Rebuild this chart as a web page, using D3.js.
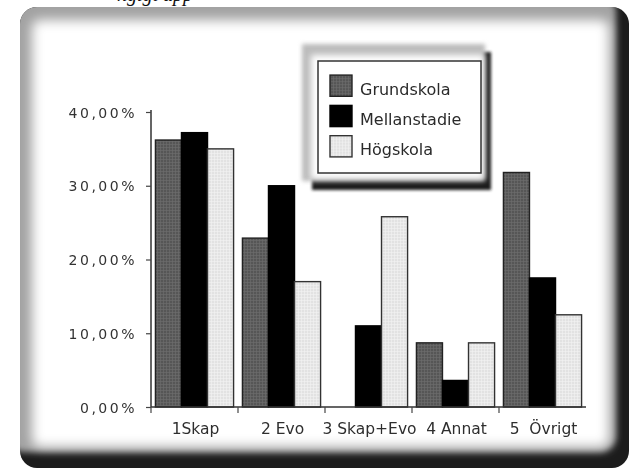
<!DOCTYPE html>
<html>
<head>
<meta charset="utf-8">
<script src="https://cdn.jsdelivr.net/npm/d3@7/dist/d3.min.js"></script>
<style>
  html, body { margin: 0; padding: 0; background: #fff; }
  svg { display: block; }
</style>
</head>
<body>
<svg id="chart" width="633" height="469"></svg>
<script>
// Answer categories and share per school level
const categories = ["1Skap", "2 Evo", "3 Skap+Evo", "4 Annat", "5  Övrigt"];
const seriesNames = ["Grundskola", "Mellanstadie", "Högskola"];
const grundskola = [0.362, 0.229, 0.0, 0.087, 0.318];
const mellanstadie = [0.372, 0.300, 0.110, 0.036, 0.175];
const hogskola = [0.350, 0.170, 0.258, 0.087, 0.125];
const yTicks = [0, 0.1, 0.2, 0.3, 0.4];

const seriesValues = [grundskola, mellanstadie, hogskola];
const rows = categories.map((c, i) => ({
  cat: c,
  vals: seriesNames.map((s, k) => ({ key: s, value: seriesValues[k][i] }))
}));

const svg = d3.select("#chart");
const defs = svg.append("defs");

// Swedish number format: decimal comma
const sv = d3.formatLocale({ decimal: ",", thousands: " ", grouping: [3], currency: ["", " kr"] });
const pct = sv.format(".2%");

// ---- fill patterns for the bars ----
function gridPattern(id, base, line, op) {
  const p = defs.append("pattern").attr("id", id).attr("patternUnits", "userSpaceOnUse")
    .attr("width", 3).attr("height", 3);
  p.append("rect").attr("width", 3).attr("height", 3).attr("fill", base);
  p.append("path").attr("d", "M0 0.5H3M0.5 0V3").attr("stroke", line)
    .attr("stroke-width", 0.6).attr("opacity", op);
}
gridPattern("patG", "#575757", "#858585", 0.5);
gridPattern("patH", "#e2e2e2", "#f6f6f6", 0.8);

const blur = (id, sd) => defs.append("filter").attr("id", id)
  .attr("x", "-10%").attr("y", "-10%").attr("width", "120%").attr("height", "120%")
  .append("feGaussianBlur").attr("stdDeviation", sd);
blur("b15", 1.5); blur("b2", 2); blur("b3", 3); blur("b6", 6); blur("soft", 0.45);

// ---- outer bevelled frame ----
defs.append("clipPath").attr("id", "frameClip")
  .append("rect").attr("x", 20).attr("y", 7).attr("width", 609).attr("height", 461).attr("rx", 17);
const frame = svg.append("g").attr("clip-path", "url(#frameClip)");
frame.append("rect").attr("x", 10).attr("y", 0).attr("width", 630).attr("height", 469).attr("fill", "#1c1c1c");
frame.append("rect").attr("x", 8).attr("y", -4).attr("width", 608).attr("height", 456)
  .attr("rx", 16).attr("fill", "#a2a2a2").attr("filter", "url(#b3)");
frame.append("rect").attr("x", 32).attr("y", 20).attr("width", 577).attr("height", 427)
  .attr("rx", 8).attr("fill", "#fff").attr("filter", "url(#b6)");

// heading line running off the top edge
svg.append("text").attr("x", 117).attr("y", 1)
  .attr("font-family", "Liberation Serif, serif").attr("font-style", "italic")
  .attr("font-size", 20).attr("fill", "#111").text("ngigt upp");

// ---- scales ----
const x = d3.scaleBand().domain(categories).range([151, 586]).paddingInner(0).paddingOuter(0);
const xs = d3.scaleBand().domain(seriesNames).range([0, x.bandwidth()]).paddingInner(0).paddingOuter(0.17);
const y = d3.scaleLinear().domain([0, 0.4]).range([407, 112]);
const fill = d3.scaleOrdinal().domain(seriesNames).range(["url(#patG)", "#050505", "url(#patH)"]);
const stroke = d3.scaleOrdinal().domain(seriesNames).range(["#222", "#000", "#333"]);

const plot = svg.append("g").attr("filter", "url(#soft)");

// bars
plot.append("g").selectAll("g").data(rows).join("g")
  .attr("transform", d => `translate(${x(d.cat)},0)`)
  .selectAll("rect").data(d => d.vals.filter(v => v.value > 0)).join("rect")
  .attr("x", d => xs(d.key)).attr("width", xs.bandwidth())
  .attr("y", d => y(d.value)).attr("height", d => y(0) - y(d.value))
  .attr("fill", d => fill(d.key)).attr("stroke", d => stroke(d.key)).attr("stroke-width", 1.4);

// y axis
const yAxis = plot.append("g").attr("transform", "translate(151,0)")
  .call(d3.axisLeft(y).tickValues(yTicks).tickFormat(pct).tickSize(5).tickPadding(9));
yAxis.select(".domain").attr("d", `M0,110V${y(0)}`).attr("stroke", "#333").attr("stroke-width", 1.5);
yAxis.selectAll(".tick line").attr("stroke", "#444").attr("stroke-width", 1.2);
yAxis.selectAll(".tick text").attr("font-family", "DejaVu Sans, sans-serif").attr("font-size", 14)
  .attr("letter-spacing", 2.5).attr("fill", "#333").attr("dy", "0.36em");

// x axis: ticks on category boundaries
const xAxis = plot.append("g").attr("transform", `translate(0,${y(0)})`);
xAxis.append("path").attr("d", `M151,0H586`).attr("stroke", "#333").attr("stroke-width", 1.5);
xAxis.selectAll("line").data(categories).join("line")
  .attr("x1", d => x(d)).attr("x2", d => x(d)).attr("y1", 0).attr("y2", 6)
  .attr("stroke", "#444").attr("stroke-width", 1.2);
xAxis.selectAll("text").data(categories).join("text")
  .attr("x", d => x(d) + x.bandwidth() / 2 + 1).attr("y", 27)
  .attr("text-anchor", "middle").attr("font-family", "DejaVu Sans, sans-serif")
  .attr("font-size", 15.5).attr("fill", "#2e2e2e").attr("xml:space", "preserve").text(d => d);

// ---- legend (raised box) ----
const lg = svg.append("g");
lg.append("rect").attr("x", 312).attr("y", 52).attr("width", 179).attr("height", 138)
  .attr("fill", "#1e1e1e").attr("filter", "url(#b15)");
lg.append("rect").attr("x", 302).attr("y", 44).attr("width", 183).attr("height", 137)
  .attr("fill", "#bcbcbc").attr("filter", "url(#b2)");
lg.append("rect").attr("x", 311).attr("y", 55).attr("width", 173).attr("height", 124)
  .attr("fill", "#fff").attr("filter", "url(#b3)");
lg.append("rect").attr("x", 318).attr("y", 61).attr("width", 163).attr("height", 112)
  .attr("fill", "#fff").attr("stroke", "#333").attr("stroke-width", 1.5);

const ly = d3.scaleBand().domain(seriesNames).range([66, 166]).padding(0.3);
const item = lg.append("g").attr("filter", "url(#soft)").selectAll("g").data(seriesNames).join("g")
  .attr("transform", d => `translate(0,${ly(d)})`);
item.append("rect").attr("x", 330).attr("y", 0).attr("width", 22).attr("height", ly.bandwidth())
  .attr("fill", d => fill(d)).attr("stroke", d => stroke(d)).attr("stroke-width", 1.4);
item.append("text").attr("x", 360).attr("y", ly.bandwidth() / 2 + 9)
  .attr("font-family", "DejaVu Sans, sans-serif").attr("font-size", 16)
  .attr("fill", "#2a2a2a").text(d => d);
</script>
</body>
</html>
